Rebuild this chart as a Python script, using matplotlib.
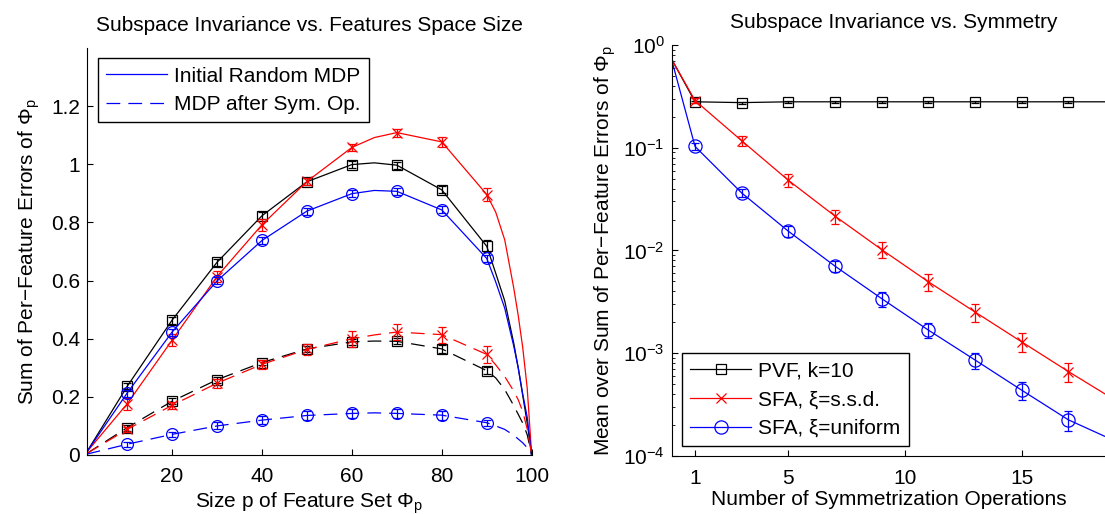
import numpy as np
import matplotlib
matplotlib.use("Agg")
import matplotlib.pyplot as plt
from matplotlib.ticker import LogLocator, NullFormatter

plt.rcParams['font.family'] = ['Liberation Sans', 'DejaVu Sans']
plt.rcParams['mathtext.fontset'] = 'custom'
plt.rcParams['mathtext.rm'] = 'Liberation Sans'
plt.rcParams['mathtext.it'] = 'Liberation Sans:italic'
plt.rcParams['mathtext.bf'] = 'Liberation Sans:bold'
plt.rcParams['font.size'] = 15

# ---------------- Left panel data ----------------
p_line = [1, 10, 20, 30, 40, 50, 60, 65, 70, 80, 90, 92, 94, 96, 97, 98, 99, 100]
p_mark = [10, 20, 30, 40, 50, 60, 70, 80, 90]

pvf_init = [0.01, 0.236, 0.464, 0.663, 0.823, 0.940, 0.999, 1.005, 0.997, 0.912, 0.718, 0.625, 0.53, 0.385, 0.30, 0.205, 0.11, 0.0]
ssd_init = [0.01, 0.176, 0.395, 0.614, 0.792, 0.941, 1.058, 1.092, 1.109, 1.077, 0.896, 0.835, 0.74, 0.575, 0.48, 0.37, 0.23, 0.0]
uni_init = [0.01, 0.213, 0.423, 0.599, 0.738, 0.839, 0.899, 0.910, 0.907, 0.843, 0.676, 0.595, 0.505, 0.375, 0.30, 0.21, 0.13, 0.0]

pvf_sym = [0.005, 0.094, 0.185, 0.259, 0.318, 0.365, 0.389, 0.392, 0.391, 0.365, 0.290, 0.265, 0.225, 0.17, 0.14, 0.11, 0.07, 0.0]
ssd_sym = [0.005, 0.088, 0.171, 0.247, 0.312, 0.363, 0.400, 0.413, 0.423, 0.414, 0.346, 0.31, 0.27, 0.22, 0.19, 0.15, 0.09, 0.0]
uni_sym = [0.003, 0.037, 0.071, 0.100, 0.120, 0.136, 0.143, 0.145, 0.143, 0.137, 0.111, 0.10, 0.088, 0.068, 0.055, 0.042, 0.025, 0.0]

pvf_init_err = [0.010, 0.012, 0.012, 0.012, 0.012, 0.012, 0.012, 0.012, 0.020]
ssd_init_err = [0.020, 0.020, 0.020, 0.020, 0.012, 0.012, 0.014, 0.016, 0.022]
uni_init_err = [0.012, 0.012, 0.012, 0.012, 0.012, 0.012, 0.012, 0.012, 0.012]
pvf_sym_err = [0.010, 0.010, 0.010, 0.010, 0.010, 0.010, 0.010, 0.015, 0.012]
ssd_sym_err = [0.010, 0.012, 0.015, 0.015, 0.020, 0.028, 0.028, 0.028, 0.030]
uni_sym_err = [0.008, 0.008, 0.012, 0.015, 0.015, 0.015, 0.015, 0.015, 0.010]

left_yticks = [0, 0.2, 0.4, 0.6, 0.8, 1.0, 1.2]
left_yticklabels = ['0', '0.2', '0.4', '0.6', '0.8', '1', '1.2']
left_xticks = [20, 40, 60, 80, 100]

# ---------------- Right panel data ----------------
n_ops = [0, 1, 3, 5, 7, 9, 11, 13, 15, 17, 19]
pvf_k10 = [0.726, 0.28, 0.275, 0.28, 0.28, 0.28, 0.28, 0.28, 0.28, 0.28, 0.28]
sfa_ssd = [0.726, 0.288, 0.117, 0.0482, 0.0216, 0.0102, 0.00496, 0.00252, 0.00129, 0.000664, 0.00035]
sfa_uni = [0.715, 0.103, 0.0363, 0.0154, 0.00704, 0.0034, 0.00168, 0.00086, 0.000437, 0.000225, 0.00014]
pvf_k10_err = [0.006, 0.006, 0.006, 0.006, 0.006, 0.006, 0.006, 0.006, 0.006]
sfa_ssd_err = [0.015, 0.013, 0.0068, 0.0034, 0.0018, 0.0009, 0.0005, 0.00027, 0.00014]
sfa_uni_err = [0.008, 0.0035, 0.0018, 0.0009, 0.00055, 0.00028, 0.00015, 0.000087, 0.00005]
right_xticks = [1, 5, 10, 15]

W, H = 1105, 514
fig = plt.figure(figsize=(W / 100, H / 100), dpi=100)

def box(l, r, t, b):
    return [l / W, (H - b) / H, (r - l) / W, (b - t) / H]

ax1 = fig.add_axes(box(86.7, 531.7, 48, 455))
ax2 = fig.add_axes(box(671.7, 1105, 45, 456))

lw = 0.9
dash = (0, (11, 6.5))
cap = 2.8
msz = {'s': 7.5, 'x': 7.0, 'o': 8.5}
msz_r = {'s': 7.5, 'x': 7.0, 'o': 9.5}

p_line_a = np.array(p_line)
mask = np.isin(p_line_a, p_mark)

series_left = [
    (pvf_init, pvf_init_err, 'k', 's', '-'),
    (ssd_init, ssd_init_err, 'r', 'x', '-'),
    (uni_init, uni_init_err, 'b', 'o', '-'),
    (pvf_sym, pvf_sym_err, 'k', 's', dash),
    (ssd_sym, ssd_sym_err, 'r', 'x', dash),
    (uni_sym, uni_sym_err, 'b', 'o', dash),
]
for vals, errs, c, m, ls in series_left:
    v = np.array(vals)
    ax1.plot(p_line_a, v, color=c, lw=lw, linestyle=ls)
    ax1.plot(p_line_a[mask], v[mask], linestyle='none', marker=m, ms=msz[m],
             mfc='none', mec=c, mew=lw)
    ax1.errorbar(p_line_a[mask], v[mask], yerr=errs, fmt='none', ecolor=c,
                 elinewidth=lw, capsize=cap, capthick=lw)

h1, = ax1.plot([], [], color='b', lw=lw, linestyle='-')
h2, = ax1.plot([], [], color='b', lw=lw, linestyle=dash)
leg1 = ax1.legend([h1, h2], ['Initial Random MDP', 'MDP after Sym. Op.'],
                  loc='upper left', bbox_to_anchor=(0.025, 0.975), borderaxespad=0,
                  fancybox=False, framealpha=1, edgecolor='k', handlelength=2.9,
                  handletextpad=0.35, labelspacing=0.46, borderpad=0.4, fontsize=15)
leg1.get_frame().set_linewidth(1.0)

ax1.set_xlim(1, 100)
ax1.set_ylim(0, 1.4)
ax1.set_xticks(left_xticks)
ax1.set_yticks(left_yticks)
ax1.set_yticklabels(left_yticklabels)
ax1.spines['top'].set_visible(False)
ax1.spines['right'].set_visible(False)
ax1.tick_params(direction='in', length=4, width=0.8, labelsize=15)
ax1.tick_params(axis='x', pad=9)
ax1.tick_params(axis='y', pad=5)
ax1.set_title('Subspace Invariance vs. Features Space Size', fontsize=15, pad=12)
ax1.set_xlabel(r'Size p of Feature Set $\Phi_{\mathrm{p}}$', fontsize=15, labelpad=3)
ax1.set_ylabel(r'Sum of Per−Feature Errors of $\Phi_{\mathrm{p}}$', fontsize=15, labelpad=6)

# ---------------- Right panel ----------------
n_a = np.array(n_ops)
series_right = [
    (pvf_k10, pvf_k10_err, 'k', 's', 'PVF, k=10'),
    (sfa_ssd, sfa_ssd_err, 'r', 'x', 'SFA, ξ=s.s.d.'),
    (sfa_uni, sfa_uni_err, 'b', 'o', 'SFA, ξ=uniform'),
]
handles = []
for vals, errs, c, m, lab in series_right:
    v = np.array(vals)
    h, = ax2.plot(n_a, v, color=c, lw=lw, marker=m, ms=msz_r[m], mfc='none', mec=c,
                  mew=lw, markevery=slice(1, len(n_a) - 1), label=lab)
    ax2.errorbar(n_a[1:-1], v[1:-1], yerr=errs, fmt='none', ecolor=c,
                 elinewidth=lw, capsize=cap, capthick=lw)
    handles.append(h)

leg2 = ax2.legend(handles=handles, loc='lower left', bbox_to_anchor=(0.024, 0.024),
                  borderaxespad=0, fancybox=False, framealpha=1, edgecolor='k',
                  handlelength=2.9, handletextpad=0.35, labelspacing=0.46,
                  borderpad=0.4, fontsize=15)
leg2.get_frame().set_linewidth(1.0)

ax2.set_yscale('log')
ax2.set_xlim(0, 18.57)
ax2.set_ylim(1e-4, 1)
ax2.set_xticks(right_xticks)
ax2.yaxis.set_major_locator(LogLocator(base=10, numticks=10))
ax2.yaxis.set_minor_locator(LogLocator(base=10, subs=np.arange(2, 10), numticks=20))
ax2.yaxis.set_minor_formatter(NullFormatter())
ax2.spines['top'].set_visible(False)
ax2.spines['right'].set_visible(False)
ax2.tick_params(which='major', direction='in', length=4, width=0.8, labelsize=15)
ax2.tick_params(which='minor', direction='in', length=2.5, width=0.6)
ax2.tick_params(axis='x', pad=9)
ax2.tick_params(axis='y', pad=5)
ax2.set_title('Subspace Invariance vs. Symmetry', fontsize=15, pad=12, x=0.512)
ax2.set_xlabel('Number of Symmetrization Operations', fontsize=15, labelpad=2)
ax2.set_ylabel(r'Mean over Sum of Per−Feature Errors of $\Phi_{\mathrm{p}}$', fontsize=15, labelpad=4)

fig.savefig('out.png', dpi=100)
